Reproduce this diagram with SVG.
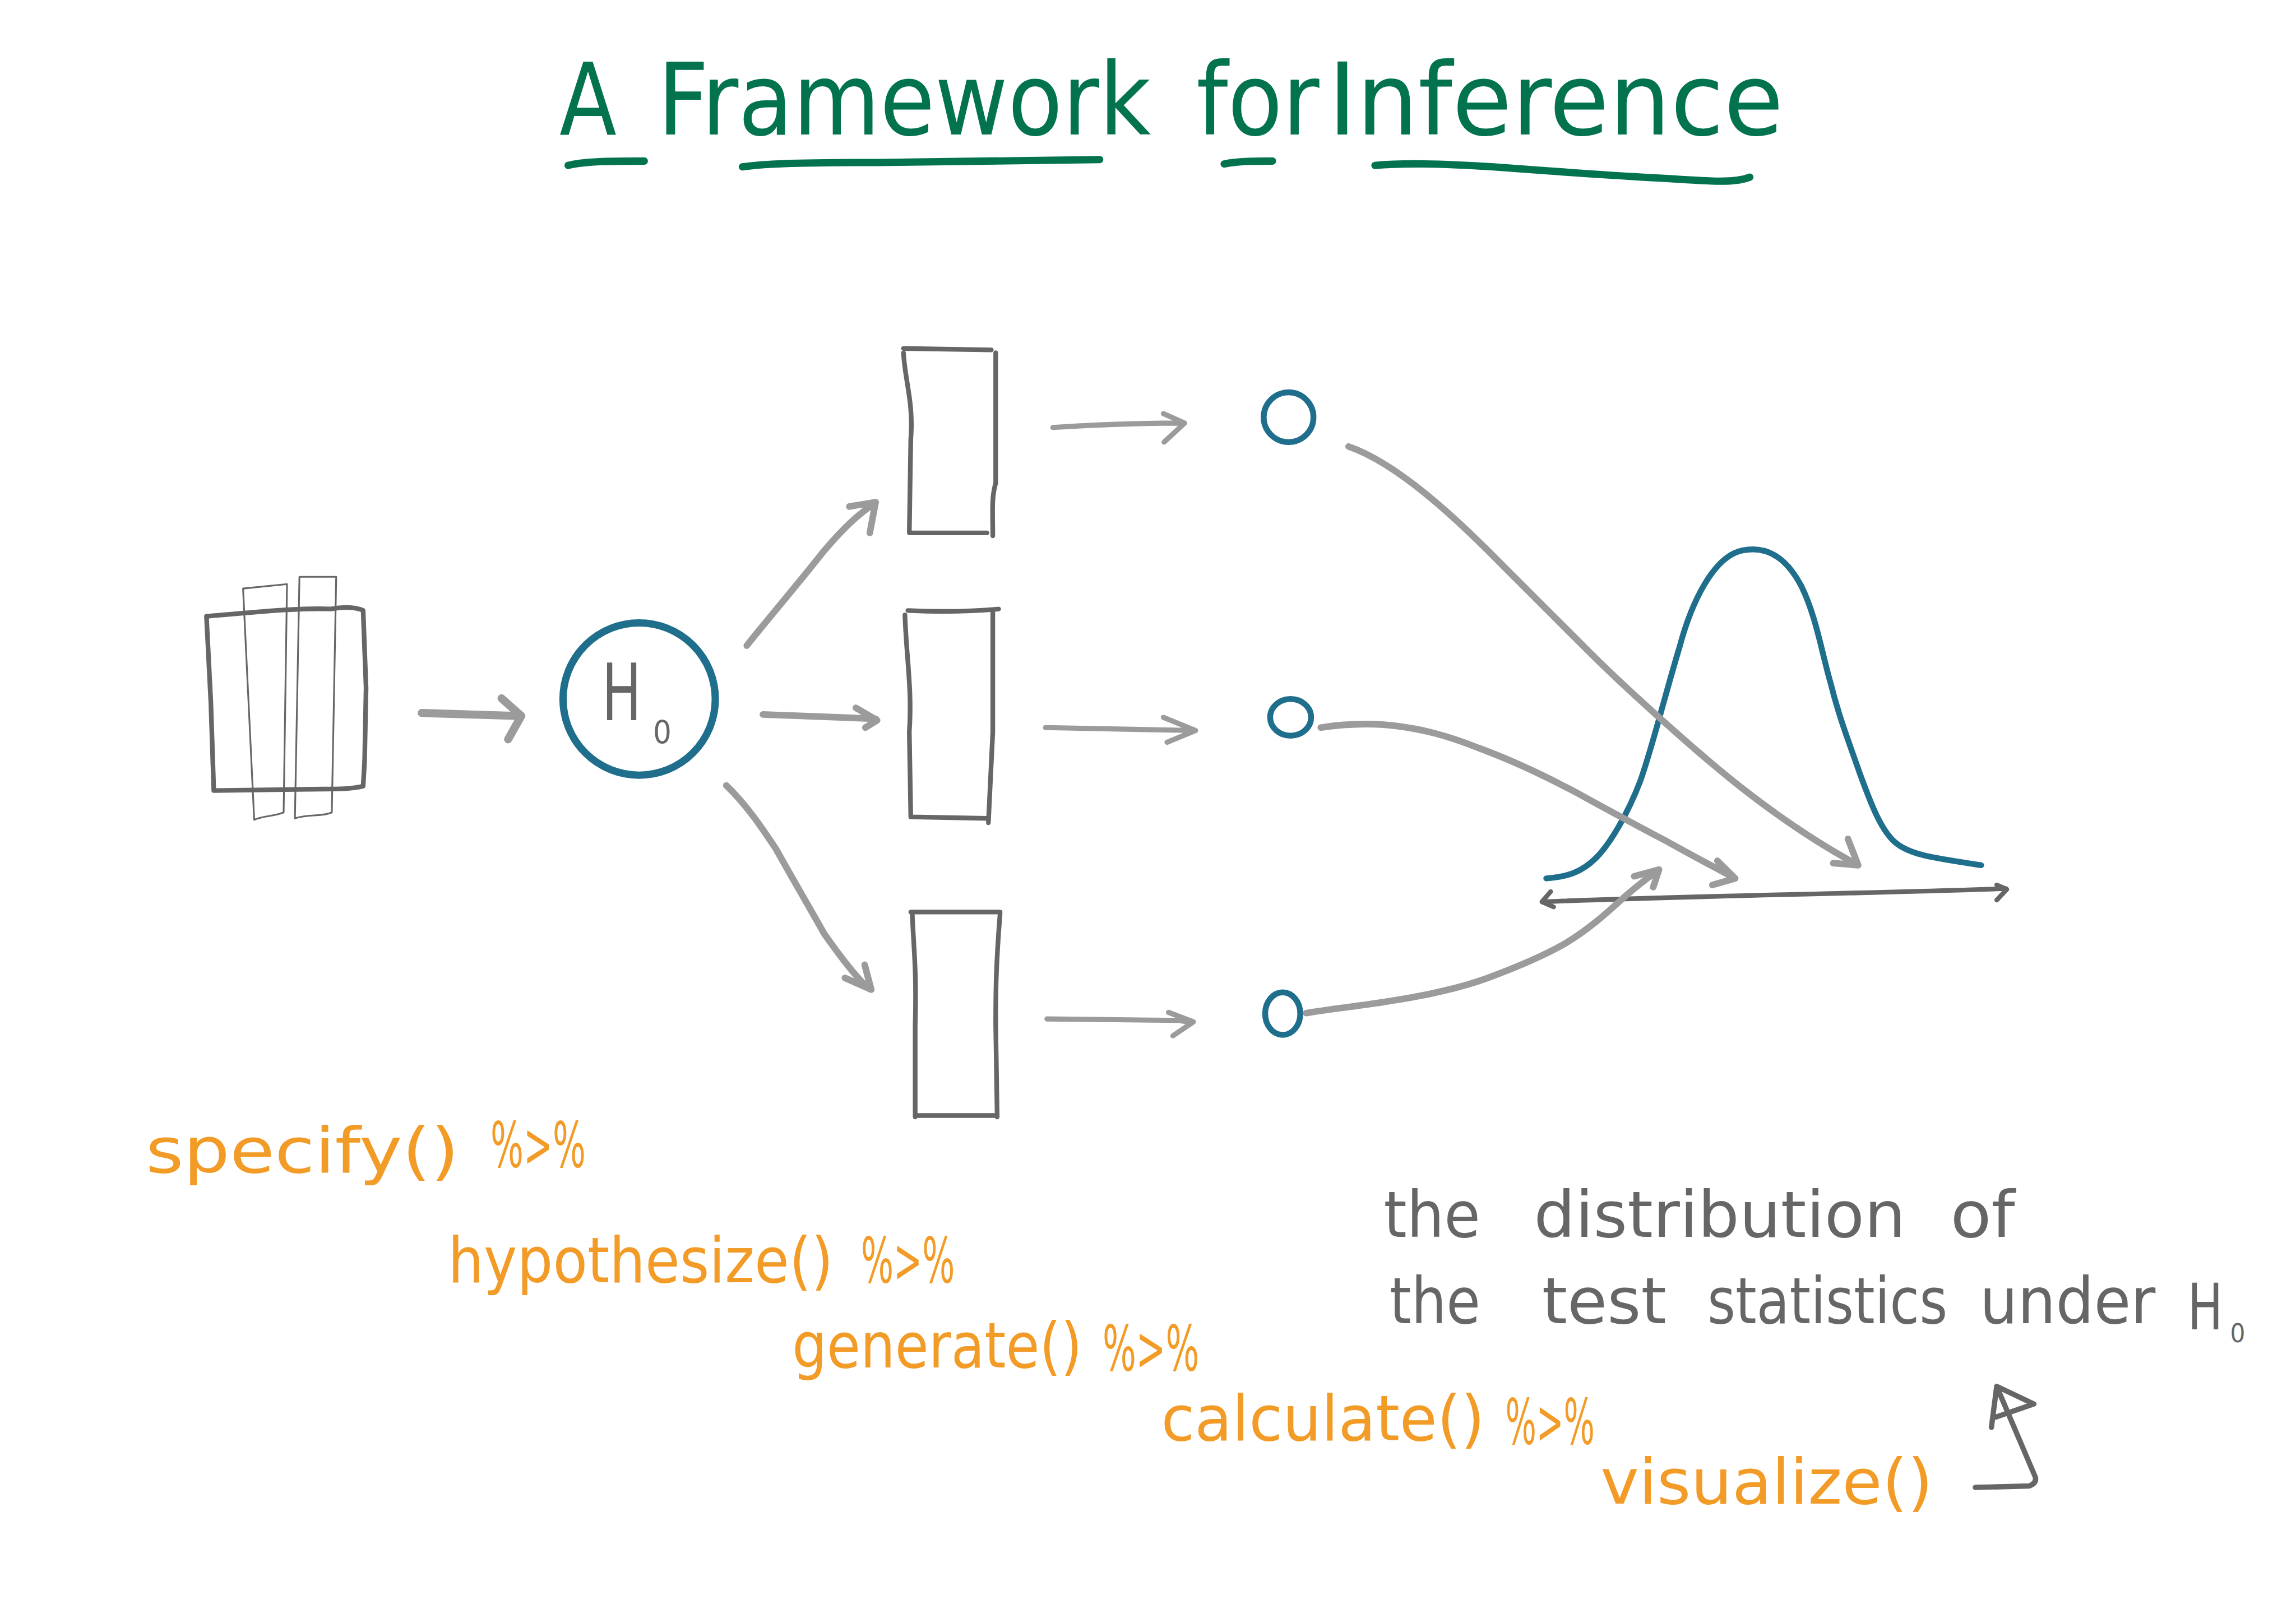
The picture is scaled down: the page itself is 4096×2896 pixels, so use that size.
<svg xmlns="http://www.w3.org/2000/svg" width="4096" height="2896" viewBox="0 0 4096 2896">
<style>
.ln{fill:none;stroke-linecap:round;stroke-linejoin:round}
.ga{stroke:#9b9b9b;stroke-width:4.5}
.gt{stroke:#9b9b9b;stroke-width:3.5}
.dk{stroke:#666666;stroke-width:3.2}
.th{stroke:#666666;stroke-width:1.2}
.tl{stroke:#1f6e8c;stroke-width:4}
.ul{stroke:#03734f;stroke-width:5}
text{font-family:"Liberation Sans Narrow","DejaVu Sans Condensed","Liberation Sans",sans-serif}
.title{fill:#03734f;font-size:68px}
.code{fill:#f29b26;font-size:43px}
.note{fill:#666666;font-size:44px}
</style>
<rect width="4096" height="2896" fill="#ffffff"/>
<g transform="scale(2.612245)">
<g id="title">
<text class="title" x="382" y="92" textLength="39" lengthAdjust="spacingAndGlyphs">A</text>
<text class="title" x="449" y="92" textLength="337" lengthAdjust="spacingAndGlyphs">Framework</text>
<text class="title" x="817" y="92" textLength="84" lengthAdjust="spacingAndGlyphs">for</text>
<text class="title" x="907" y="92" textLength="311" lengthAdjust="spacingAndGlyphs">Inference</text>
<path class="ln ul" d="M388,113 C400,110 420,110 440,110"/>
<path class="ln ul" d="M507,114 C520,112 540,111 600,111 L751,109"/>
<path class="ln ul" d="M836,112 C845,110 858,110 869,110"/>
<path class="ln ul" d="M939,113 C960,111 990,112 1020,114 C1060,117 1100,120 1140,122 C1170,124 1185,125 1195,121"/>
</g>
<g id="data">
<path class="ln dk" d="M141,421 C175,418 205,415 226,416 C236,414 244,415 248,417 L250,470 L249,520 L248,537 C240,539 230,539 220,539 L146,540 L144,480 Z"/>
<path class="ln th" d="M173.6,560 L166,402 C176,401 186,400 196,399 L193.7,555 C186,558 180,557 173.6,560"/>
<path class="ln th" d="M201.4,559 L204.5,394 L229.6,394 L226.6,555 C220,558 210,556 201.4,559"/>
</g>
<g id="h0">
<circle class="ln tl" cx="436.5" cy="477.5" r="52" style="stroke-width:5"/>
<text x="411" y="492" style="fill:#666666;font-size:54px" textLength="27" lengthAdjust="spacingAndGlyphs">H</text>
<text x="446" y="508" style="fill:#666666;font-size:22px">0</text>
</g>
<g id="sample1"><path class="ln dk" d="M617,241 C618,260 624,275 622,300 L621,364 L674,364 M617,238 L677,239 M680,241 L680,330 C677,340 678,350 678,366"/></g>
<g id="sample2"><path class="ln dk" d="M620,417 C640,418 660,418 682,416 M618,420 C619,450 623,470 621,500 L622,558 L674,559 M678,418 L678,500 L675,562"/></g>
<g id="sample3"><path class="ln dk" d="M622,623 L683,623 M623,624 C624,650 626,660 625,700 L625,763 M626,762 L680,762 M683,624 C680,660 680,680 680,700 L681,763"/></g>
<g id="stat1"><ellipse class="ln tl" cx="880" cy="285" rx="17" ry="17"/></g>
<g id="stat2"><ellipse class="ln tl" cx="881.4" cy="490" rx="14" ry="12.5"/></g>
<g id="stat3"><ellipse class="ln tl" cx="876" cy="692.4" rx="12" ry="14.5"/></g>
<g id="distribution">
<path class="ln tl" d="M1056,600 C1070,599 1080,596 1090,586 C1100,576 1112,555 1120,534 C1128,512 1137,475 1147,442 C1155,412 1170,380 1190,376 C1210,372 1222,385 1230,400 C1240,420 1244,445 1250,466 C1256,490 1262,505 1270,528 C1278,550 1285,568 1295,576 C1305,584 1320,586 1353,591"/>
<path class="ln dk" d="M1053,616 C1150,612 1250,611 1370,607 M1059,609 L1053,616 L1061,619.5 M1363.6,604.5 L1370.5,607.5 L1363.6,614.8"/>
</g>
<g id="connectors">
<path class="ln ga" style="stroke-width:5.5" d="M288,487 L352,489 M342.5,477 L356,489 L347,505"/>
<path class="ln ga" d="M510,441 C520,428 540,405 563,376 C575,362 585,352 597,344 M580,346 L598,343 L594,364"/>
<path class="ln ga" d="M521,488 L598,491 M584.5,483.5 L599,492 L591,497"/>
<path class="ln ga" d="M496,536.5 C510,550 520,565 530,580 C540,598 550,615 563,638 C575,655 585,668 593,675 M577,668 L595,676 L590.5,659"/>
<path class="ln gt" d="M719,292 C750,290 780,289 808,289 M794.5,282.5 L809,289 L795,302"/>
<path class="ln gt" d="M714,497 L816,499 M794.5,490 L816.5,499 L797,507"/>
<path class="ln gt" d="M715,696 L805,697 L814,698.5 M798,691.5 L815,698 L801,707.5"/>
<path class="ln ga" d="M921,305 C950,315 985,345 1016,376 S1060,420 1085,445 S1160,515 1188,537 S1245,578 1269,591 M1262,573 L1269,591 L1252,589.6"/>
<path class="ln ga" d="M902,497 C915,495 930,494 945,495 C970,497 990,503 1010,511 C1040,522 1065,535 1085,546 C1105,557 1120,565 1137,574 C1155,584 1170,592 1185,600 M1172.8,588 L1185,600 L1169.4,604.5"/>
<path class="ln ga" d="M892,692 C910,689 930,687 948,684 C975,680 1000,674 1016,668 C1035,661 1052,654 1068,645 C1085,635 1098,623 1109,613 C1118,605 1126,599 1133,594 M1116,598.6 L1133,594 L1129,606"/>
<path class="ln dk" style="stroke-width:3.6" d="M1349,1016 L1386,1015 Q1391,1013 1390,1009 L1363.6,947 M1360,975 L1363.6,947 L1389,959 L1363,968"/>
</g>
<g id="code">
<text class="code" x="99.5" y="801" textLength="214" lengthAdjust="spacingAndGlyphs">specify()</text>
<text class="code" x="335" y="797" textLength="65" lengthAdjust="spacingAndGlyphs">%&gt;%</text>
<text class="code" x="306" y="876" textLength="263" lengthAdjust="spacingAndGlyphs">hypothesize()</text>
<text class="code" x="588" y="876" textLength="64" lengthAdjust="spacingAndGlyphs">%&gt;%</text>
<text class="code" x="541" y="934" textLength="198" lengthAdjust="spacingAndGlyphs">generate()</text>
<text class="code" x="753" y="936" textLength="66" lengthAdjust="spacingAndGlyphs">%&gt;%</text>
<text class="code" x="793" y="984" textLength="221" lengthAdjust="spacingAndGlyphs">calculate()</text>
<text class="code" x="1028" y="986" textLength="61" lengthAdjust="spacingAndGlyphs">%&gt;%</text>
<text class="code" x="1093" y="1027" textLength="227" lengthAdjust="spacingAndGlyphs">visualize()</text>
</g>
<g id="note">
<text class="note" x="945" y="845" textLength="66" lengthAdjust="spacingAndGlyphs">the</text>
<text class="note" x="1047.5" y="845" textLength="254" lengthAdjust="spacingAndGlyphs">distribution</text>
<text class="note" x="1332" y="845" textLength="44" lengthAdjust="spacingAndGlyphs">of</text>
<text class="note" x="949" y="904" textLength="62" lengthAdjust="spacingAndGlyphs">the</text>
<text class="note" x="1053" y="904" textLength="85" lengthAdjust="spacingAndGlyphs">test</text>
<text class="note" x="1166" y="904" textLength="164" lengthAdjust="spacingAndGlyphs">statistics</text>
<text class="note" x="1352" y="904" textLength="120" lengthAdjust="spacingAndGlyphs">under</text>
<text class="note" x="1494" y="908" textLength="24" lengthAdjust="spacingAndGlyphs">H</text>
<text class="note" x="1523" y="917" style="font-size:18px">0</text>
</g>
</g>
</svg>
